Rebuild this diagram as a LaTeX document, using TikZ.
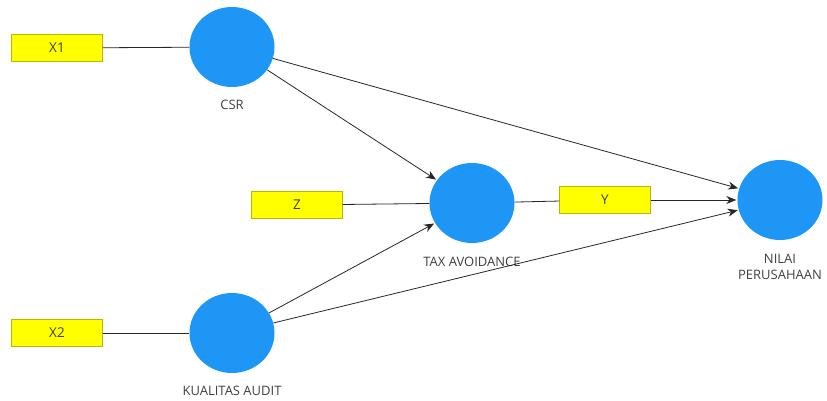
\documentclass[tikz,border=0pt]{standalone}
\usepackage{fontspec}
\setmainfont{Open Sans}
\usepackage{tikz}
\usetikzlibrary{positioning,shapes.geometric,arrows,arrows.meta}
\definecolor{latentblue}{HTML}{1E96F5}
\definecolor{indyellow}{HTML}{FFFF00}
\definecolor{indborder}{HTML}{B8B800}
\definecolor{labelgray}{HTML}{404040}
\tikzset{
    latent/.style={
        ellipse,
        fill=latentblue,
        minimum width=85pt,
        minimum height=80pt
    },
    indicator/.style={
        rectangle,
        fill=indyellow,
        draw=indborder,
        minimum width=91pt,
        minimum height=27pt,
        text=labelgray,
        font=\fontsize{13.5}{15}\selectfont
    },
    caption/.style={
        text=labelgray,
        align=center,
        inner sep=1pt,
        font=\fontsize{13}{16}\selectfont
    }
}
\tikzstyle{link} = [draw=black!85, line width=0.8pt]
\tikzstyle{arrow} = [link,-{Stealth[length=10pt,width=8pt]},shorten >=1pt]

\begin{document}
\begin{tikzpicture}[x=1pt, y=-1pt, node distance=10pt]
          \useasboundingbox (0,0) rectangle (827,400);
          % constructs
          \node (csr) [latent] at (232,47) {};
          \node (tax) [latent] at (472,203) {};
          \node (nilai) [latent] at (780,200) {};
          \node (audit) [latent] at (232,333) {};
          \node (lcsr) [caption, below=12pt of csr] {CSR};
          \node (ltax) [caption, below=13pt of tax] {TAX AVOIDANCE};
          \node (lnilai) [caption, below=13pt of nilai] {NILAI\\PERUSAHAAN};
          \node (laudit) [caption, below=12pt of audit] {KUALITAS AUDIT};
          % indicators
          \node (x1) [indicator] at (57,48) {X1};
          \node (z) [indicator] at (297,205) {Z};
          \node (y) [indicator] at (605,200) {Y};
          \node (x2) [indicator] at (57,333) {X2};
          \draw [link] (x1) -- (csr);
          \draw [link] (x2) -- (audit);
          \draw [link] (z) -- (tax);
          \draw [link] (tax) -- (y);
          % paths
          \draw [arrow] (csr) -- (tax);
          \draw [arrow] (csr) -- (nilai);
          \draw [arrow] (audit) -- (tax);
          \draw [arrow] (audit) -- (nilai);
          \draw [arrow] (y) -- (nilai);
        \end{tikzpicture}
\end{document}
